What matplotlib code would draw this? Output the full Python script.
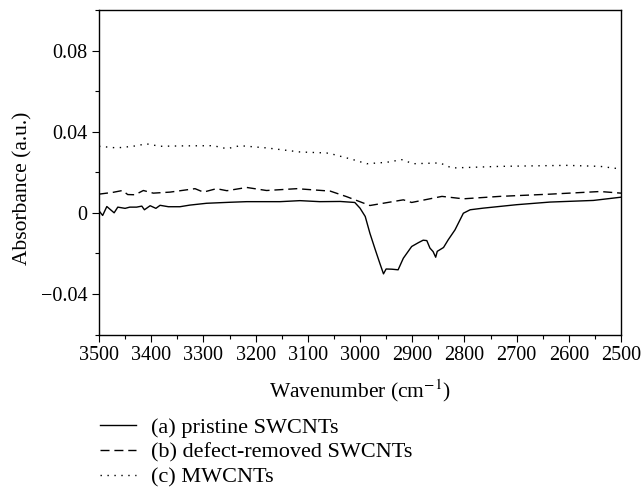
import matplotlib
matplotlib.use( 'Agg' )
import matplotlib.pyplot as plt
from matplotlib.ticker import MultipleLocator, FuncFormatter

plt.rcParams[ 'font.family' ] = [ 'Liberation Serif', 'DejaVu Serif' ]
plt.rcParams[ 'mathtext.fontset' ] = 'stix'

# (a) pristine SWCNTs
wn_a = [ 3500, 3493, 3485, 3471, 3464, 3450, 3441, 3428, 3418, 3413, 3402, 3391,
         3383, 3367, 3345, 3326, 3294, 3249, 3217, 3153, 3115, 3077, 3038, 3010,
         3000, 2990, 2981, 2971, 2962, 2955, 2950, 2939, 2927, 2917, 2901, 2888,
         2879, 2872, 2866, 2860, 2855, 2852, 2840, 2831, 2818, 2802, 2789, 2764,
         2700, 2636, 2553, 2500 ]
abs_a = [ 0.0010, -0.0013, 0.0031, 0.0000, 0.0028, 0.0022, 0.0028, 0.0028, 0.0033, 0.0015, 0.0035, 0.0022,
          0.0037, 0.0030, 0.0030, 0.0038, 0.0047, 0.0052, 0.0055, 0.0055, 0.0060, 0.0055, 0.0056, 0.0051,
          0.0023, -0.0018, -0.0101, -0.0180, -0.0249, -0.0301, -0.0277, -0.0278, -0.0281, -0.0224, -0.0166, -0.0147,
          -0.0135, -0.0137, -0.0174, -0.0191, -0.0219, -0.0190, -0.0171, -0.0133, -0.0084, -0.0002, 0.0015, 0.0023,
          0.0040, 0.0053, 0.0061, 0.0077 ]

# (b) defect-removed SWCNTs
wn_b = [ 3500, 3473, 3455, 3445, 3431, 3415, 3396, 3364, 3316, 3300, 3275, 3255,
         3217, 3179, 3121, 3057, 3026, 2981, 2917, 2901, 2843, 2802, 2732, 2636,
         2540, 2500 ]
abs_b = [ 0.0092, 0.0101, 0.0110, 0.0090, 0.0089, 0.0110, 0.0097, 0.0102, 0.0119, 0.0102, 0.0119, 0.0109,
          0.0125, 0.0110, 0.0119, 0.0107, 0.0080, 0.0036, 0.0064, 0.0051, 0.0081, 0.0069, 0.0081, 0.0092,
          0.0105, 0.0097 ]

# (c) MWCNTs
wn_c = [ 3500, 3466, 3435, 3409, 3383, 3339, 3281, 3255, 3230, 3179, 3115, 3064,
         3051, 3013, 2987, 2949, 2920, 2898, 2847, 2824, 2732, 2604, 2540, 2500 ]
abs_c = [ 0.0328, 0.0320, 0.0328, 0.0340, 0.0328, 0.0330, 0.0331, 0.0316, 0.0331, 0.0320, 0.0300, 0.0295,
          0.0288, 0.0262, 0.0242, 0.0249, 0.0262, 0.0242, 0.0246, 0.0221, 0.0229, 0.0234, 0.0229, 0.0216 ]

labels = [ '(a) pristine SWCNTs', '(b) defect-removed SWCNTs', '(c) MWCNTs' ]

W, H = 643, 491
fig = plt.figure( figsize = ( W / 100, H / 100 ), dpi = 100 )
ax = fig.add_axes( [ 99 / W, 1 - 334.5 / H, ( 621 - 99 ) / W, ( 334.5 - 10 ) / H ] )

la, = ax.plot( wn_a, abs_a, color = 'black', lw = 1.0, ls = '-' )
lb, = ax.plot( wn_b, abs_b, color = 'black', lw = 1.0, ls = ( 0, ( 6.5, 3.5 ) ) )
lc, = ax.plot( wn_c, abs_c, color = 'black', lw = 1.0, ls = ( 0, ( 1, 4 ) ) )

ax.set_xlim( 3500, 2500 )
ax.set_ylim( -0.06, 0.10 )
ax.xaxis.set_major_locator( MultipleLocator( 100 ) )
ax.xaxis.set_minor_locator( MultipleLocator( 50 ) )
ax.yaxis.set_major_locator( MultipleLocator( 0.04 ) )
ax.yaxis.set_minor_locator( MultipleLocator( 0.02 ) )
ax.yaxis.set_major_formatter( FuncFormatter( lambda v, p: ( '%g' % round( v, 3 ) ).replace( '-', '\u2212' ) ) )

ax.tick_params( which = 'both', direction = 'out', top = False, right = False, width = 0.8, labelsize = 14.5 )
ax.tick_params( which = 'major', length = 5 )
ax.tick_params( which = 'minor', length = 3 )
for s in ax.spines.values():
    s.set_linewidth( 1.0 )

ax.set_xlabel( 'Wavenumber (cm$^{-1}$)', fontsize = 15.5, labelpad = 9 )
ax.set_ylabel( 'Absorbance (a.u.)', fontsize = 15.5 )
ax.yaxis.set_label_coords( -0.128, 0.45 )

fig.legend( [ la, lb, lc ], labels, loc = 'upper left',
            bbox_to_anchor = ( 100 / W, 1 - 417 / H ), bbox_transform = fig.transFigure,
            frameon = False, fontsize = 16, handlelength = 1.6, handletextpad = 0.7,
            labelspacing = 0.2, borderpad = 0, borderaxespad = 0 )

fig.savefig( 'out.png', dpi = 100 )
